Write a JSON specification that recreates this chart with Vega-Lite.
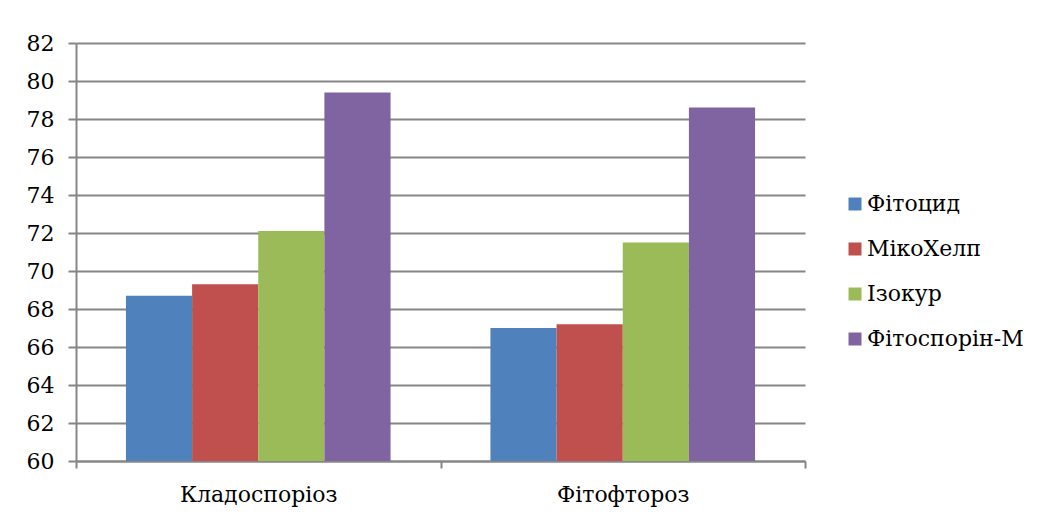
{
  "$schema": "https://vega.github.io/schema/vega-lite/v6.json",
  "autosize": {"type": "none"},
  "padding": {"left": 76, "top": 43, "right": 236, "bottom": 59},
  "width": 729,
  "height": 418,
  "background": "white",
  "data": {
    "values": [
      {"disease": "Кладоспоріоз", "product": "Фітоцид", "value": 68.7},
      {"disease": "Кладоспоріоз", "product": "МікоХелп", "value": 69.3},
      {"disease": "Кладоспоріоз", "product": "Ізокур", "value": 72.1},
      {"disease": "Кладоспоріоз", "product": "Фітоспорін-М", "value": 79.4},
      {"disease": "Фітофтороз", "product": "Фітоцид", "value": 67.0},
      {"disease": "Фітофтороз", "product": "МікоХелп", "value": 67.2},
      {"disease": "Фітофтороз", "product": "Ізокур", "value": 71.5},
      {"disease": "Фітофтороз", "product": "Фітоспорін-М", "value": 78.6}
    ]
  },
  "mark": {"type": "bar", "clip": true},
  "encoding": {
    "x": {
      "field": "disease",
      "type": "nominal",
      "sort": ["Кладоспоріоз", "Фітофтороз"],
      "scale": {"paddingInner": 0, "paddingOuter": 0},
      "axis": {
        "title": null,
        "labelAngle": 0,
        "labelPadding": 16,
        "tickBand": "extent",
        "tickSize": 7,
        "grid": false
      }
    },
    "xOffset": {
      "field": "product",
      "type": "nominal",
      "sort": ["Фітоцид", "МікоХелп", "Ізокур", "Фітоспорін-М"],
      "scale": {"paddingInner": 0, "paddingOuter": 0.755}
    },
    "y": {
      "field": "value",
      "type": "quantitative",
      "scale": {"domain": [60, 82], "nice": false, "zero": false},
      "axis": {
        "title": null,
        "values": [60, 62, 64, 66, 68, 70, 72, 74, 76, 78, 80, 82],
        "labelPadding": 14,
        "tickSize": 8,
        "grid": true,
        "gridColor": "#868686",
        "gridWidth": 2
      }
    },
    "color": {
      "field": "product",
      "type": "nominal",
      "sort": ["Фітоцид", "МікоХелп", "Ізокур", "Фітоспорін-М"],
      "scale": {
        "domain": ["Фітоцид", "МікоХелп", "Ізокур", "Фітоспорін-М"],
        "range": ["#4F81BD", "#C0504D", "#9BBB59", "#8064A2"]
      },
      "legend": {
        "title": null,
        "orient": "none",
        "legendX": 768,
        "legendY": 150,
        "symbolType": "square",
        "symbolSize": 169,
        "symbolStrokeWidth": 0,
        "labelOffset": 1,
        "rowPadding": 23
      }
    }
  },
  "config": {
    "font": "DejaVu Serif",
    "view": {"stroke": null},
    "axis": {
      "labelFont": "DejaVu Serif",
      "labelFontSize": 22,
      "labelColor": "#000000",
      "labelFontWeight": "normal",
      "tickColor": "#868686",
      "tickWidth": 2,
      "domainColor": "#868686",
      "domainWidth": 2
    },
    "legend": {
      "labelFont": "DejaVu Serif",
      "labelFontSize": 22,
      "labelColor": "#000000"
    }
  }
}
